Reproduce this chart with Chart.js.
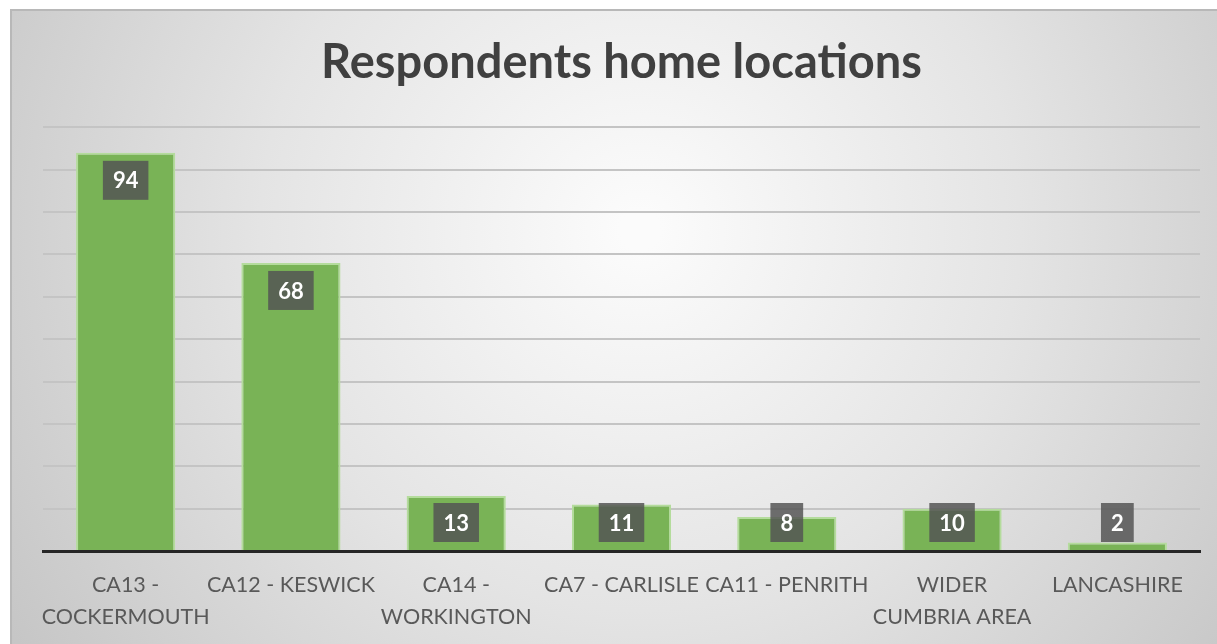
<!DOCTYPE html>
<html>
<head>
<meta charset="utf-8">
<title>Respondents home locations</title>
<script src="https://cdn.jsdelivr.net/npm/chart.js@4.4.1/dist/chart.umd.min.js"></script>
<style>
  html, body { margin: 0; padding: 0; background: #fff; }
  #wrap { width: 1217px; height: 644px; position: relative; }
</style>
</head>
<body>
<div id="wrap"><canvas id="homeChart" width="1217" height="644"></canvas></div>
<script>
// where respondents live
const locations = [
    ['CA13 -', 'COCKERMOUTH'],
    'CA12 - KESWICK',
    ['CA14 -', 'WORKINGTON'],
    'CA7 - CARLISLE',
    'CA11 - PENRITH',
    ['WIDER', 'CUMBRIA AREA'],
    'LANCASHIRE'
];
const respondents = [94, 68, 13, 11, 8, 10, 2];
const yTicks = [0, 10, 20, 30, 40, 50, 60, 70, 80, 90, 100];

// grey radial backdrop with a thin frame, like an office chart area
const backdrop = {
    id: 'backdrop',
    beforeDraw(chart) {
        const ctx = chart.ctx;
        const w = chart.width, h = chart.height;
        ctx.save();
        ctx.fillStyle = '#ffffff';
        ctx.fillRect(0, 0, w, h);
        const g = ctx.createRadialGradient(640, 230, 20, 640, 230, 820);
        g.addColorStop(0, '#fbfbfb');
        g.addColorStop(0.45, '#e4e4e4');
        g.addColorStop(1, '#c0c0c0');
        ctx.fillStyle = g;
        ctx.fillRect(10, 9, w - 10, h - 9);
        ctx.strokeStyle = '#b8b8b8';
        ctx.lineWidth = 2;
        ctx.beginPath();
        ctx.moveTo(11, h);
        ctx.lineTo(11, 10);
        ctx.lineTo(w, 10);
        ctx.stroke();
        ctx.restore();
    }
};

// value boxes sitting just inside the top of each bar
const valueBoxes = {
    id: 'valueBoxes',
    afterDatasetsDraw(chart) {
        const ctx = chart.ctx;
        const meta = chart.getDatasetMeta(0);
        ctx.save();
        ctx.font = 'bold 22px Lato, "Open Sans", sans-serif';
        ctx.textAlign = 'center';
        ctx.textBaseline = 'middle';
        meta.data.forEach((bar, i) => {
            const txt = String(respondents[i]);
            const tw = ctx.measureText(txt).width;
            const bw = tw + 20, bh = 39;
            const top = Math.min(bar.y + 8, bar.base - 47);
            ctx.fillStyle = 'rgba(84, 84, 84, 0.84)';
            ctx.fillRect(bar.x - bw / 2, top, bw, bh);
            ctx.fillStyle = '#ffffff';
            ctx.fillText(txt, bar.x, top + bh / 2 + 1);
        });
        ctx.restore();
    }
};

new Chart(document.getElementById('homeChart'), {
    type: 'bar',
    data: {
        labels: locations,
        datasets: [{
            data: respondents,
            backgroundColor: '#79b356',
            borderColor: '#b4dc9c',
            borderWidth: 2,
            categoryPercentage: 1,
            barPercentage: 0.6
        }]
    },
    options: {
        responsive: false,
        animation: false,
        layout: { padding: { left: 43, right: 17, top: 0, bottom: 0 } },
        plugins: {
            legend: { display: false },
            tooltip: { enabled: false },
            title: {
                display: true,
                text: 'Respondents home locations',
                color: '#404040',
                font: { family: 'Lato, "Open Sans", sans-serif', size: 47, weight: 'bold' },
                padding: { top: 35, bottom: 36 }
            }
        },
        scales: {
            x: {
                afterFit(scale) { scale.height = 93; },
                grid: { display: false },
                border: { display: true, color: '#262626', width: 3 },
                ticks: {
                    color: '#595959',
                    font: { family: 'Lato, "Open Sans", sans-serif', size: 21.5, lineHeight: 1.5 },
                    padding: 10,
                    maxRotation: 0,
                    autoSkip: false
                }
            },
            y: {
                min: 0,
                max: 100,
                afterBuildTicks(scale) {
                    scale.ticks = yTicks.map(v => ({ value: v }));
                },
                afterFit(scale) { scale.width = 0; },
                ticks: { display: false },
                border: { display: false },
                grid: { color: '#c4c4c4', lineWidth: 2, drawTicks: false }
            }
        }
    },
    plugins: [backdrop, valueBoxes]
});
</script>
</body>
</html>
